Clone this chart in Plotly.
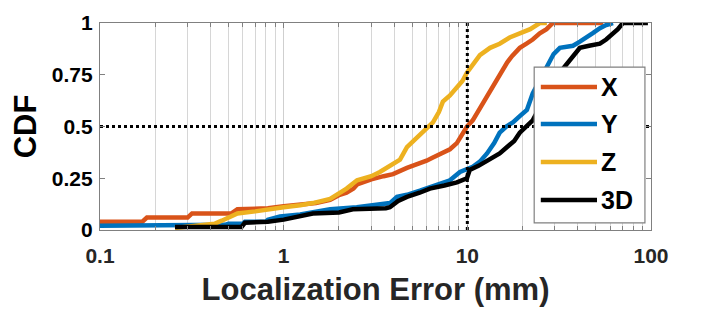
import plotly.graph_objects as go

# ---------------- data ----------------
series_names = ["X", "Y", "Z", "3D"]
series_colors = ["#D95319", "#0072BD", "#EDB120", "#000000"]

X_mm = [0.1, 0.17, 0.18, 0.30, 0.317, 0.52, 0.56, 0.82, 1.0, 1.23, 1.5, 1.79, 2.02, 2.2, 2.4,
        2.51, 3.0, 3.5, 3.94, 4.69, 5.52, 6.0, 6.5, 7.3, 8.04, 8.77, 9.3, 9.95, 10.7, 11.2,
        11.7, 12.5, 13.3, 14.5, 15.6, 16.5, 17.5, 19.3, 21.0, 22.7, 24.8, 27.0, 29.2, 55.0]
X_cdf = [0.04, 0.04, 0.06, 0.06, 0.08, 0.08, 0.10, 0.105, 0.115, 0.12, 0.13, 0.145, 0.17, 0.18, 0.20,
         0.22, 0.245, 0.26, 0.27, 0.30, 0.32, 0.335, 0.35, 0.37, 0.39, 0.42, 0.46, 0.50, 0.53, 0.56,
         0.59, 0.63, 0.67, 0.73, 0.78, 0.81, 0.84, 0.88, 0.90, 0.92, 0.95, 0.97, 1.0, 1.0]

Y_mm = [0.1, 0.28, 0.3, 0.48, 0.5, 0.6, 0.615, 0.8, 0.82, 0.955, 1.23, 1.79, 2.5, 3.3, 3.79,
        4.14, 4.69, 5.52, 6.5, 8.04, 9.12, 10.7, 11.7, 12.8, 14.0, 15.0, 16.3, 17.7, 19.3, 21.1,
        22.7, 25.0, 27.1, 29.5, 31.9, 37.6, 41.0, 44.8, 48.0, 52.7, 57.0, 62.1]
Y_cdf = [0.02, 0.02, 0.025, 0.025, 0.03, 0.03, 0.04, 0.04, 0.05, 0.065, 0.075, 0.10, 0.11, 0.12, 0.13,
         0.16, 0.17, 0.19, 0.21, 0.24, 0.28, 0.305, 0.33, 0.37, 0.42, 0.47, 0.50, 0.52, 0.55, 0.58,
         0.66, 0.73, 0.80, 0.85, 0.88, 0.89, 0.91, 0.93, 0.95, 0.975, 0.99, 1.0]

Z_mm = [0.256, 0.3, 0.36, 0.42, 0.46, 0.5, 0.56, 0.7, 0.82, 1.0, 1.23, 1.44, 1.79, 2.02, 2.2,
        2.51, 3.0, 3.34, 3.79, 4.3, 4.69, 5.1, 5.73, 6.5, 7.0, 7.36, 8.04, 8.77, 9.4, 9.95,
        10.7, 11.7, 13.3, 15.0, 17.0, 19.3, 22.0, 24.8, 27.1]
Z_cdf = [0.01, 0.015, 0.02, 0.03, 0.045, 0.06, 0.08, 0.09, 0.10, 0.11, 0.12, 0.13, 0.15, 0.18, 0.20,
         0.24, 0.26, 0.28, 0.31, 0.34, 0.40, 0.43, 0.47, 0.52, 0.57, 0.62, 0.65, 0.69, 0.72, 0.76,
         0.80, 0.845, 0.88, 0.90, 0.93, 0.95, 0.97, 1.0, 1.0]

D3_mm = [0.256, 0.59, 0.615, 0.82, 1.0, 1.23, 1.44, 2.0, 2.38, 3.6, 3.79, 4.2, 4.69, 5.5, 6.25,
         7.5, 8.77, 9.95, 10.3, 11.5, 13.3, 15.0, 16.4, 18.0, 19.3, 21.0, 22.7, 25.0, 28.0, 31.9,
         34.5, 37.6, 41.0, 46.0, 52.7, 57.0, 62.1, 66.0, 70.3, 96.2]
D3_cdf = [0.015, 0.015, 0.035, 0.04, 0.05, 0.065, 0.08, 0.085, 0.10, 0.105, 0.11, 0.14, 0.16, 0.18, 0.20,
          0.215, 0.23, 0.25, 0.29, 0.31, 0.34, 0.37, 0.40, 0.43, 0.47, 0.50, 0.53, 0.60, 0.68, 0.76,
          0.80, 0.84, 0.88, 0.89, 0.90, 0.92, 0.95, 0.97, 1.0, 1.0]

ref_x = 10        # vertical dotted reference (mm)
ref_y = 0.5       # horizontal dotted reference (CDF)

x_range = [0.1, 100]
x_tickvals = [0.1, 1, 10, 100]
x_ticktext = ["0.1", "1", "10", "100"]
x_minor = [m * d for d in (0.1, 1, 10) for m in range(2, 10)]
y_tickvals = [0, 0.25, 0.5, 0.75, 1]
y_ticktext = ["0", "0.25", "0.5", "0.75", "1"]

# ---------------- figure ----------------
FONT = "Liberation Sans, Arial, Helvetica, sans-serif"
TXT = "#262626"

fig = go.Figure()
for name, col, xs, ys in zip(series_names, series_colors,
                             [X_mm, Y_mm, Z_mm, D3_mm], [X_cdf, Y_cdf, Z_cdf, D3_cdf]):
    fig.add_trace(go.Scatter(x=xs, y=ys, mode="lines", name=name,
                             line=dict(color=col, width=4.5), showlegend=False))

fig.add_trace(go.Scatter(x=[ref_x, ref_x], y=[0, 1], mode="lines", showlegend=False,
                         line=dict(color="black", width=3, dash="dot")))
fig.add_trace(go.Scatter(x=x_range, y=[ref_y, ref_y], mode="lines", showlegend=False,
                         line=dict(color="black", width=3, dash="dot")))

# manual legend (box drawn above the curves, as in the reference)
lx0, lx1, ly0, ly1 = 0.788, 0.989, 0.034, 0.787
fig.add_shape(type="rect", xref="paper", yref="paper", x0=lx0, x1=lx1, y0=ly0, y1=ly1,
              fillcolor="white", line=dict(color="#808080", width=1.2), layer="above")
entry_y = [0.691, 0.512, 0.329, 0.145]
for name, col, ey in zip(series_names, series_colors, entry_y):
    fig.add_shape(type="line", xref="paper", yref="paper", x0=0.800, x1=0.902, y0=ey, y1=ey,
                  line=dict(color=col, width=4.5), layer="above")
    fig.add_annotation(xref="paper", yref="paper", x=0.905, y=ey, text=name, showarrow=False,
                       xanchor="left", yanchor="middle",
                       font=dict(family=FONT, size=25, color="black", weight="bold"))

# the page body has an 8px margin, so the figure is offset by (8, 8)
fig.update_layout(
    width=712, height=302,
    margin=dict(l=92, r=69, t=15, b=80),
    paper_bgcolor="white", plot_bgcolor="white",
    font=dict(family=FONT, color=TXT),
    showlegend=False,
)
fig.update_xaxes(
    type="log", range=[-1, 2], automargin=False,
    tickvals=x_tickvals, ticktext=x_ticktext,
    tickfont=dict(family=FONT, size=21, color=TXT, weight="bold"),
    ticklabelstandoff=7,
    ticks="inside", ticklen=5, tickcolor="#808080",
    showgrid=True, gridcolor="#cfcfcf", gridwidth=1,
    minor=dict(tickvals=x_minor, showgrid=True, gridcolor="#d6d6d6", gridwidth=1,
               ticks="inside", ticklen=4, tickcolor="#808080"),
    showline=True, linecolor="#808080", linewidth=1.3, mirror="ticks",
    zeroline=False,
    title=dict(text="Localization Error (mm)", standoff=11,
               font=dict(family=FONT, size=31, color=TXT, weight="bold")),
)
fig.update_yaxes(
    range=[0, 1], automargin=False,
    tickvals=y_tickvals, ticktext=y_ticktext,
    tickfont=dict(family=FONT, size=21, color="black", weight="bold"),
    ticklabelstandoff=2,
    ticks="inside", ticklen=5, tickcolor="#808080",
    showgrid=False, zeroline=False,
    showline=True, linecolor="#808080", linewidth=1.3, mirror="ticks",
    title=dict(text="CDF", standoff=19,
               font=dict(family=FONT, size=31, color="black", weight="bold")),
)

fig.write_html("out.html")
